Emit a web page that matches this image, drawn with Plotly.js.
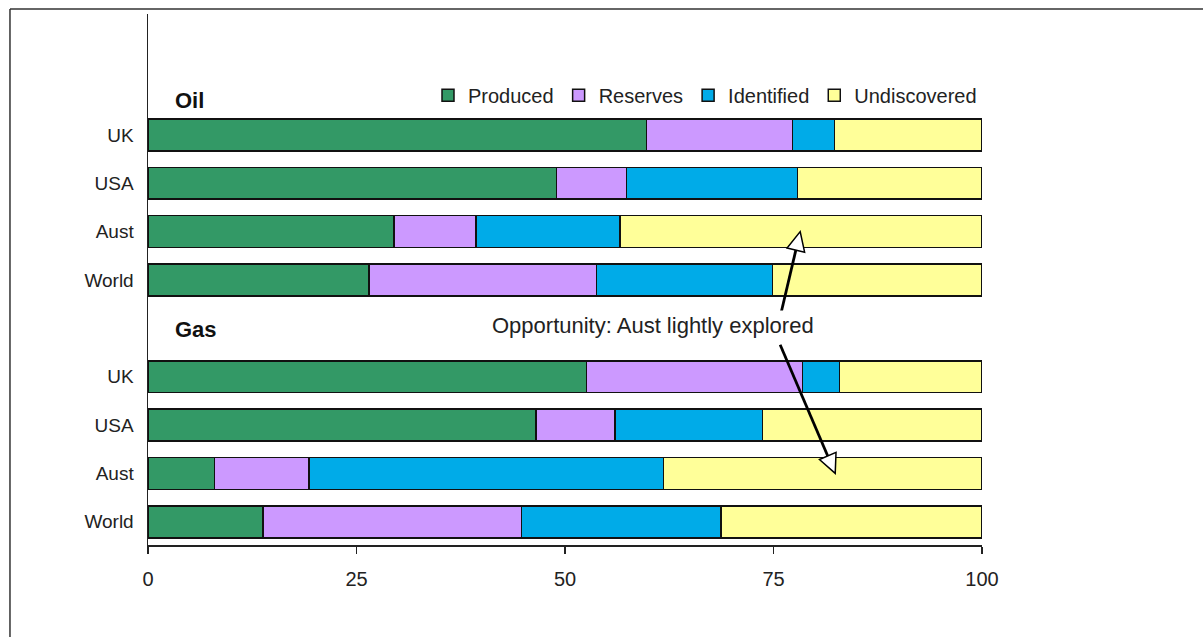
<!DOCTYPE html>
<html>
<head>
<meta charset="utf-8">
<script src="https://cdn.plot.ly/plotly-3.0.1.min.js"></script>
<style>html,body{margin:0;padding:0;background:#fff;}#chart{width:1203px;height:637px;}</style>
</head>
<body>
<div id="chart"></div>
<script>
// Data
const categories = ['UK', 'USA', 'Aust', 'World'];
const seriesNames = ['Produced', 'Reserves', 'Identified', 'Undiscovered'];
// Oil shares (% of total endowment)
const oilProduced     = [59.8, 49.0, 29.5, 26.5];
const oilReserves     = [17.5,  8.4,  9.8, 27.3];
const oilIdentified   = [ 5.0, 20.5, 17.3, 21.1];
const oilUndiscovered = [17.7, 22.1, 43.4, 25.1];
// Gas shares
const gasProduced     = [52.6, 46.5,  8.0, 13.8];
const gasReserves     = [25.9,  9.5, 11.3, 31.0];
const gasIdentified   = [ 4.4, 17.7, 42.5, 23.9];
const gasUndiscovered = [17.1, 26.3, 38.2, 31.3];
const colors = ['#339966', '#CC99FF', '#00ABE8', '#FFFF99'];

const oilSeries = [oilProduced, oilReserves, oilIdentified, oilUndiscovered];
const gasSeries = [gasProduced, gasReserves, gasIdentified, gasUndiscovered];

// Row positions: oil rows 0..3, gap row, gas rows 5..8
const oilPos = categories.map((c, i) => i);
const gasPos = categories.map((c, i) => i + 5);
const allPos = oilPos.concat(gasPos);

const FONT = 'Liberation Sans, Arial, sans-serif';

const traces = seriesNames.map((name, k) => ({
  type: 'bar',
  orientation: 'h',
  name: name,
  y: allPos,
  x: oilSeries[k].concat(gasSeries[k]),
  width: 0.66,
  marker: {color: colors[k], line: {color: '#111', width: 1.5}},
  hoverinfo: 'skip'
}));

// Arrow helper (hollow triangle head), computed in pixel space
const sx = 834 / 100, sy = 531 / 10.98;
function arrowShapes(x0, y0, x1, y1) {
  const dxp = (x1 - x0) * sx, dyp = (y1 - y0) * sy;
  const L = Math.hypot(dxp, dyp);
  const ux = dxp / L, uy = dyp / L;
  const len = 19, hw = 9;
  const bx = x1 - len * ux / sx, by = y1 - len * uy / sy;
  const c1x = bx + hw * (-uy) / sx, c1y = by + hw * ux / sy;
  const c2x = bx - hw * (-uy) / sx, c2y = by - hw * ux / sy;
  return [
    {type: 'line', xref: 'x', yref: 'y', x0: x0, y0: y0, x1: bx, y1: by,
     line: {color: '#000', width: 2.8}},
    {type: 'path', xref: 'x', yref: 'y',
     path: `M${x1},${y1} L${c1x},${c1y} L${c2x},${c2y} Z`,
     fillcolor: '#fff', line: {color: '#000', width: 1.5}}
  ];
}

const shapes = [
  // outer frame
  {type: 'line', xref: 'paper', yref: 'paper', x0: -0.1655, x1: 1.35, y0: 1.0094, y1: 1.0094,
   line: {color: '#333', width: 1.5}},
  {type: 'line', xref: 'paper', yref: 'paper', x0: -0.1655, x1: -0.1655, y0: 1.0094, y1: -0.3,
   line: {color: '#333', width: 1.5}}
].concat(arrowShapes(75.8, 3.76, 78.2, 2.0), arrowShapes(75.8, 4.34, 82.4, 7.0));

const layout = {
  width: 1203, height: 637,
  margin: {l: 148, r: 221, t: 14, b: 92},
  paper_bgcolor: '#fff', plot_bgcolor: '#fff',
  barmode: 'stack',
  showlegend: true,
  legend: {orientation: 'h', x: 1, xanchor: 'right', y: 0.847, yanchor: 'middle',
           font: {family: FONT, size: 20, color: '#222'},
           itemwidth: 30, traceorder: 'normal', bgcolor: 'rgba(0,0,0,0)'},
  font: {family: FONT, size: 19, color: '#222'},
  xaxis: {range: [0, 100], tickvals: [0, 25, 50, 75, 100], showgrid: false, zeroline: false,
          showline: true, linecolor: '#222', linewidth: 1.5, ticks: 'outside', ticklen: 7,
          tickwidth: 1.5, tickcolor: '#222', ticklabelstandoff: 8,
          tickfont: {size: 20, color: '#222'}, fixedrange: true},
  yaxis: {range: [8.48, -2.5], tickvals: allPos, ticktext: categories.concat(categories),
          showgrid: false, zeroline: false, showline: true, linecolor: '#222', linewidth: 1.5,
          ticks: '', ticklabelstandoff: 9, tickfont: {size: 19, color: '#222'}, fixedrange: true},
  shapes: shapes,
  annotations: [
    {x: 3, y: -0.72, xref: 'x', yref: 'y', text: '<b>Oil</b>', showarrow: false,
     xanchor: 'left', yanchor: 'middle', font: {size: 22, color: '#111'}},
    {x: 3, y: 4.03, xref: 'x', yref: 'y', text: '<b>Gas</b>', showarrow: false,
     xanchor: 'left', yanchor: 'middle', font: {size: 22, color: '#111'}},
    {x: 60.6, y: 3.95, xref: 'x', yref: 'y', text: 'Opportunity: Aust lightly explored',
     showarrow: false, xanchor: 'center', yanchor: 'middle', font: {size: 22, color: '#222'},
     bgcolor: '#fff', borderpad: 2}
  ]
};

Plotly.newPlot('chart', traces, layout, {displayModeBar: false, staticPlot: true});
</script>
</body>
</html>
